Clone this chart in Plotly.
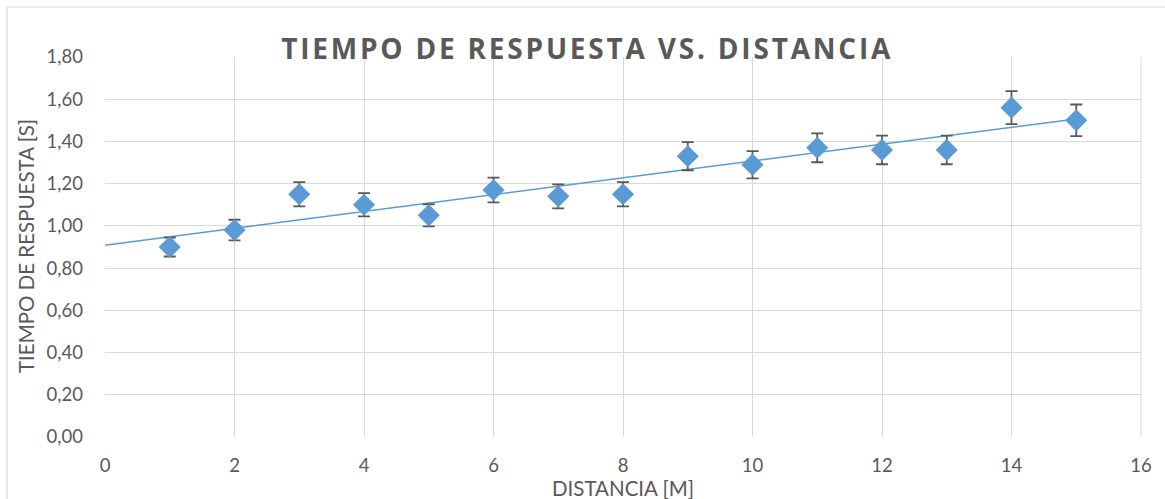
import numpy as np
import plotly.graph_objects as go

distancia = [1, 2, 3, 4, 5, 6, 7, 8, 9, 10, 11, 12, 13, 14, 15]
tiempo = [0.90, 0.98, 1.15, 1.10, 1.05, 1.17, 1.14, 1.15, 1.33, 1.29, 1.37, 1.36, 1.36, 1.56, 1.50]
error_pct = 5
x_ticks = [0, 2, 4, 6, 8, 10, 12, 14, 16]
y_ticks = [0.0, 0.2, 0.4, 0.6, 0.8, 1.0, 1.2, 1.4, 1.6, 1.8]
y_labels = ["0,00", "0,20", "0,40", "0,60", "0,80", "1,00", "1,20", "1,40", "1,60", "1,80"]

slope, intercept = np.polyfit(distancia, tiempo, 1)
trend_x = [0, 15]
trend_y = [intercept + slope * v for v in trend_x]

blue = "#5B9BD5"
gray = "#595959"
grid = "#D9D9D9"

L, R, T, B = 105, 24, 57, 62
W, H = 1165, 499
pw, ph = W - L - R, H - T - B

def px_x(px):
    return (px - L) / pw

def px_y(py):
    return (H - B - py) / ph

fig = go.Figure()
fig.add_trace(go.Scatter(x=trend_x, y=trend_y, mode="lines",
                         line=dict(color=blue, width=1.5), hoverinfo="skip", showlegend=False))
fig.add_trace(go.Scatter(
    x=distancia, y=tiempo, mode="markers",
    marker=dict(symbol="diamond", size=17, color=blue),
    error_y=dict(type="percent", value=error_pct, color=gray, thickness=1.8, width=6),
    showlegend=False))

fig.update_layout(
    width=W, height=H,
    margin=dict(l=L, r=R, t=T, b=B),
    paper_bgcolor="white", plot_bgcolor="white",
    font=dict(family="Lato", color=gray, size=19),
    title=dict(text="<b>TIEMPO DE RESPUESTA VS. DISTANCIA</b>",
               font=dict(family="Open Sans", size=28, color=gray),
               x=0.504, xanchor="center", y=1 - 49 / H, yanchor="middle"),
    xaxis=dict(range=[0, 16], tickvals=x_ticks, showgrid=True, gridcolor=grid, gridwidth=1,
               zeroline=False, showline=False, ticks="", ticklabelstandoff=15,
               tickfont=dict(size=18.5, color=gray)),
    yaxis=dict(range=[0, 1.8], tickvals=y_ticks, ticktext=y_labels, showgrid=True,
               gridcolor=grid, gridwidth=1, zeroline=False, showline=False, ticks="",
               ticklabelstandoff=21, tickfont=dict(size=18.5, color=gray)),
    annotations=[
        dict(text="DISTANCIA [M]", xref="paper", yref="paper", x=px_x(623), y=px_y(488),
             xanchor="center", yanchor="middle", showarrow=False,
             font=dict(size=20.5, color=gray)),
        dict(text="TIEMPO DE RESPUESTA [S]", xref="paper", yref="paper", x=px_x(26), y=px_y(246),
             xanchor="center", yanchor="middle", showarrow=False, textangle=-90,
             font=dict(size=20.5, color=gray)),
    ],
    shapes=[
        dict(type="rect", xref="paper", yref="paper", x0=px_x(7), x1=px_x(1200), y0=px_y(560),
             y1=px_y(7), line=dict(color=grid, width=1.2), fillcolor="rgba(0,0,0,0)", layer="below"),
        dict(type="line", xref="paper", yref="paper", x0=1, x1=1, y0=0, y1=1,
             line=dict(color=grid, width=1)),
    ],
)

post = """
document.body.style.margin='0';
document.querySelectorAll('.gtitle').forEach(function(e){e.style.letterSpacing='2.8px';});
"""
fig.write_html("out.html", post_script=post, config={"displayModeBar": False})
